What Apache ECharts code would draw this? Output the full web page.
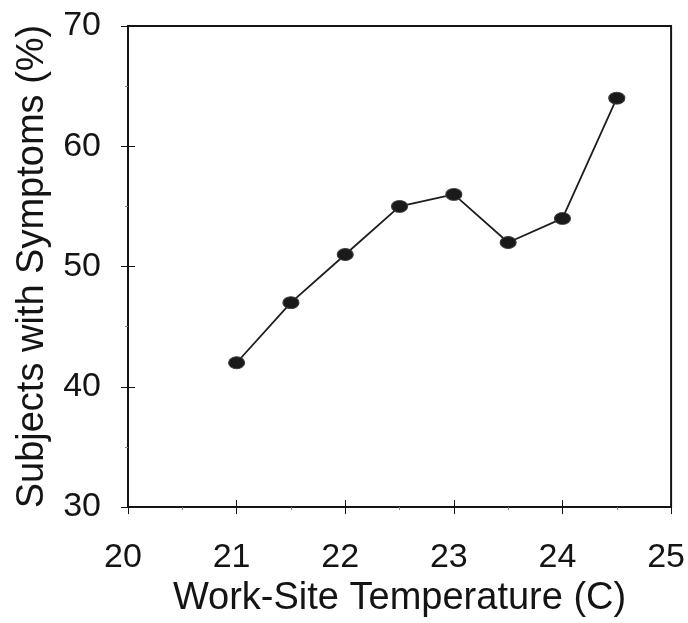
<!DOCTYPE html>
<html>
<head>
<meta charset="utf-8">
<script src="https://cdn.jsdelivr.net/npm/echarts@6/dist/echarts.min.js"></script>
<style>
html,body{margin:0;padding:0;background:#fff;}
#chart{width:688px;height:623px;}
</style>
</head>
<body>
<div id="chart"></div>
<script>
const temperatures = [21, 21.5, 22, 22.5, 23, 23.5, 24, 24.5];
const symptomsPct = [42, 47, 51, 55, 56, 52, 54, 64];
const xTicks = [20, 21, 22, 23, 24, 25];
const yTicks = [30, 40, 50, 60, 70];

const FONT = '"Liberation Sans", Arial, sans-serif';
const INK = '#141414';

const chart = echarts.init(document.getElementById('chart'), null, {renderer: 'canvas'});

const points = temperatures.map((t, i) => [t, symptomsPct[i]]);

const baseX = {
  type: 'value',
  min: xTicks[0],
  max: xTicks[xTicks.length - 1],
  interval: 1,
  position: 'bottom',
  offset: 0,
  splitLine: {show: false},
  axisLine: {show: true, onZero: false, lineStyle: {color: INK, width: 2}}
};
const baseY = {
  type: 'value',
  min: yTicks[0],
  max: yTicks[yTicks.length - 1],
  interval: 10,
  position: 'left',
  offset: 0,
  splitLine: {show: false},
  axisLine: {show: true, onZero: false, lineStyle: {color: INK, width: 2}}
};

chart.setOption({
  backgroundColor: '#ffffff',
  animation: false,
  grid: {
    left: 128, right: 16, top: 26, bottom: 113,
    show: true, borderColor: INK, borderWidth: 2, backgroundColor: 'transparent'
  },
  xAxis: [
    Object.assign({}, baseX, {
      name: 'Work-Site Temperature (C)',
      nameLocation: 'middle',
      nameGap: 69,
      nameTextStyle: {fontFamily: FONT, fontSize: 38, color: INK},
      axisTick: {show: true, inside: false, length: 7, lineStyle: {color: INK, width: 1}},
      minorTick: {show: true, splitNumber: 2, length: 3, lineStyle: {color: '#888', width: 1}},
      axisLabel: {fontFamily: FONT, fontSize: 34, color: INK, margin: 34, padding: [0, 10, 0, 0]}
    }),
    Object.assign({}, baseX, {
      axisTick: {show: true, inside: true, length: 7, lineStyle: {color: INK, width: 1}},
      axisLabel: {show: false}
    })
  ],
  yAxis: [
    Object.assign({}, baseY, {
      name: 'Subjects with Symptoms (%)',
      nameLocation: 'middle',
      nameGap: 76,
      nameRotate: 90,
      nameTextStyle: {fontFamily: FONT, fontSize: 38, color: INK},
      axisTick: {show: true, inside: false, length: 7, lineStyle: {color: INK, width: 1}},
      minorTick: {show: true, splitNumber: 2, length: 3, lineStyle: {color: '#888', width: 1}},
      axisLabel: {fontFamily: FONT, fontSize: 34, color: INK, margin: 27}
    }),
    Object.assign({}, baseY, {
      axisTick: {show: true, inside: true, length: 7, lineStyle: {color: INK, width: 1}},
      axisLabel: {show: false}
    })
  ],
  series: [{
    type: 'line',
    xAxisIndex: 0,
    yAxisIndex: 0,
    data: points,
    symbol: 'circle',
    symbolSize: [16, 12],
    showAllSymbol: true,
    lineStyle: {color: '#1e1e1e', width: 1.8},
    itemStyle: {color: '#1a1a1a', borderColor: '#3a3a3a', borderWidth: 1},
    emphasis: {disabled: true}
  }]
});
</script>
</body>
</html>
